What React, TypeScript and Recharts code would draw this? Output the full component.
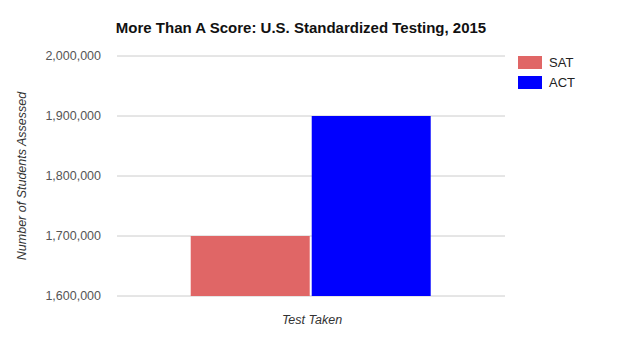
import { BarChart, Bar, XAxis, YAxis, CartesianGrid } from 'recharts';

const categories = ['2015'];
const satValues = [1700000];
const actValues = [1900000];
const yTicks = [1600000, 1700000, 1800000, 1900000, 2000000];

const SERIES = [
  { key: 'SAT', color: '#e06666' },
  { key: 'ACT', color: '#0000ff' },
];

const data = categories.map((c, i) => ({ test: c, SAT: satValues[i], ACT: actValues[i] }));

const fmt = (v: number) => v.toLocaleString('en-US');

export default function App() {
  const font = 'Arial, "Liberation Sans", sans-serif';
  return (
    <div style={{ position: 'absolute', left: 0, top: 0, width: 622, height: 352, background: '#fff', fontFamily: font }}>
      <div style={{ position: 'absolute', top: 19, left: 0, width: 602, textAlign: 'center', fontWeight: 'bold', fontSize: 15, color: '#111' }}>
        More Than A Score: U.S. Standardized Testing, 2015
      </div>
      <BarChart
        width={622}
        height={352}
        data={data}
        margin={{ top: 56, right: 117, bottom: 26, left: 17 }}
        barGap={2}
        barCategoryGap="19%"
      >
        <CartesianGrid vertical={false} stroke="#cccccc" />
        <XAxis dataKey="test" tick={false} axisLine={false} tickLine={false} height={30} />
        <YAxis
          width={100}
          domain={[1600000, 2000000]}
          ticks={yTicks}
          tickFormatter={fmt}
          axisLine={false}
          tickLine={false}
          tickMargin={10}
          tick={{ fill: '#555', fontSize: 12.5, fontFamily: font }}
        />
        {SERIES.map(s => (
          <Bar key={s.key} dataKey={s.key} fill={s.color} isAnimationActive={false} />
        ))}
      </BarChart>
      <div style={{ position: 'absolute', top: 52, left: 518, fontSize: 13, color: '#222' }}>
        {SERIES.map(s => (
          <div key={s.key} style={{ display: 'flex', alignItems: 'center', height: 20 }}>
            <span style={{ width: 24, height: 13, background: s.color, display: 'inline-block', marginRight: 7 }} />
            {s.key}
          </div>
        ))}
      </div>
      <div style={{ position: 'absolute', top: 313, left: 262, width: 100, textAlign: 'center', fontStyle: 'italic', fontSize: 12.5, color: '#333' }}>
        Test Taken
      </div>
      <div style={{ position: 'absolute', left: 22, top: 176, width: 200, marginLeft: -100, marginTop: -8, textAlign: 'center', transform: 'rotate(-90deg)', fontStyle: 'italic', fontSize: 12.5, color: '#333', lineHeight: '16px' }}>
        Number of Students Assessed
      </div>
    </div>
  );
}
